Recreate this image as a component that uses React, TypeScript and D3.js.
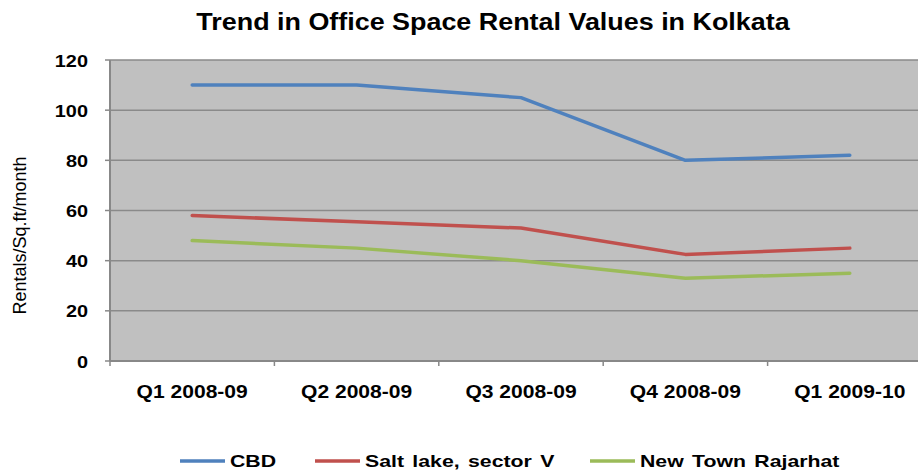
import React, { useEffect, useRef } from 'react';
import * as d3 from 'd3';

const quarters = ['Q1 2008-09', 'Q2 2008-09', 'Q3 2008-09', 'Q4 2008-09', 'Q1 2009-10'];
const cbd = [110, 110, 105, 80, 82];
const saltLake = [58, 55.5, 53, 42.5, 45];
const newTown = [48, 45, 40, 33, 35];
const seriesNames = ['CBD', 'Salt lake, sector V', 'New Town Rajarhat'];
const yTicks = [0, 20, 40, 60, 80, 100, 120];

const colors = ['#4F81BD', '#C0504D', '#9BBB59'];
const font = 'Arial, "Liberation Sans", sans-serif';

const App = () => {
  const ref = useRef<SVGSVGElement>(null);

  useEffect(() => {
    if (!ref.current) return;
    const svg = d3.select(ref.current);
    svg.selectAll('*').remove();

    const width = 918, height = 471;
    const left = 110, top = 60, bottom = 361, right = 932;
    const sx = 1.17; // the source text is a bit wide

    const x = d3.scaleBand().domain(quarters).range([left, right]);
    const y = d3.scaleLinear().domain([0, 120]).range([bottom, top]);

    const addText = (g: any, tx: number, ty: number, txt: string, size: number, anchor: string, scale = sx) =>
      g.append('text')
        .attr('transform', `translate(${tx},${ty}) scale(${scale},1)`)
        .attr('text-anchor', anchor)
        .style('font', `bold ${size}px ${font}`)
        .text(txt);

    svg.append('rect')
      .attr('width', width).attr('height', height).attr('fill', '#fff');

    // plot area
    svg.append('rect')
      .attr('x', left).attr('y', top)
      .attr('width', width - left).attr('height', bottom - top)
      .attr('fill', '#C0C0C0');

    // gridlines
    svg.append('g')
      .selectAll('line')
      .data(yTicks.filter(d => d > 0))
      .enter().append('line')
      .attr('x1', left).attr('x2', width)
      .attr('y1', d => y(d)).attr('y2', d => y(d))
      .attr('stroke', '#8A8A8A').attr('stroke-width', 1.5);

    // y axis
    const yAxis = svg.append('g');
    yAxis.append('line')
      .attr('x1', left).attr('x2', left)
      .attr('y1', top).attr('y2', bottom)
      .attr('stroke', '#888').attr('stroke-width', 2);
    yTicks.forEach(t => {
      yAxis.append('line')
        .attr('x1', left - 5).attr('x2', left)
        .attr('y1', y(t)).attr('y2', y(t))
        .attr('stroke', '#888').attr('stroke-width', 1.5);
      addText(yAxis, 88, y(t) + 6.5, String(t), 17, 'end');
    });

    // x axis
    const xAxis = svg.append('g');
    xAxis.append('line')
      .attr('x1', left).attr('x2', width)
      .attr('y1', bottom).attr('y2', bottom)
      .attr('stroke', '#888').attr('stroke-width', 2);
    quarters.forEach(q => {
      const xq = x(q) as number;
      xAxis.append('line')
        .attr('x1', xq).attr('x2', xq)
        .attr('y1', bottom).attr('y2', bottom + 5)
        .attr('stroke', '#888').attr('stroke-width', 1.5);
      addText(xAxis, xq + x.bandwidth() / 2, 398, q, 18, 'middle');
    });

    // lines
    const line = d3.line<number>()
      .x((_, i) => (x(quarters[i]) as number) + x.bandwidth() / 2)
      .y(d => y(d));

    [cbd, saltLake, newTown].forEach((s, i) => {
      svg.append('path')
        .datum(s)
        .attr('d', line)
        .attr('fill', 'none')
        .attr('stroke', colors[i])
        .attr('stroke-width', 3.5)
        .attr('stroke-linecap', 'round')
        .attr('stroke-linejoin', 'round');
    });

    // title
    addText(svg, 493, 30, 'Trend in Office Space Rental Values in Kolkata', 23, 'middle');

    // y title
    svg.append('text')
      .attr('transform', `translate(26,${(top + bottom) / 2 + 25}) rotate(-90)`)
      .attr('text-anchor', 'middle')
      .style('font', `18px ${font}`)
      .text('Rentals/Sq.ft/month');

    // legend
    const legendX = [180, 315, 590];
    const lg = svg.append('g');
    seriesNames.forEach((name, i) => {
      lg.append('line')
        .attr('x1', legendX[i]).attr('x2', legendX[i] + 45)
        .attr('y1', 461).attr('y2', 461)
        .attr('stroke', colors[i]).attr('stroke-width', 3.5);
      addText(lg, legendX[i] + 50, 467, name, 17, 'start', 1.25)
        .style('word-spacing', '2px');
    });
  }, []);

  return (
    <svg ref={ref} width={918} height={471}
      style={{ position: 'absolute', left: 0, top: 0, display: 'block' }} />
  );
};

export default App;
